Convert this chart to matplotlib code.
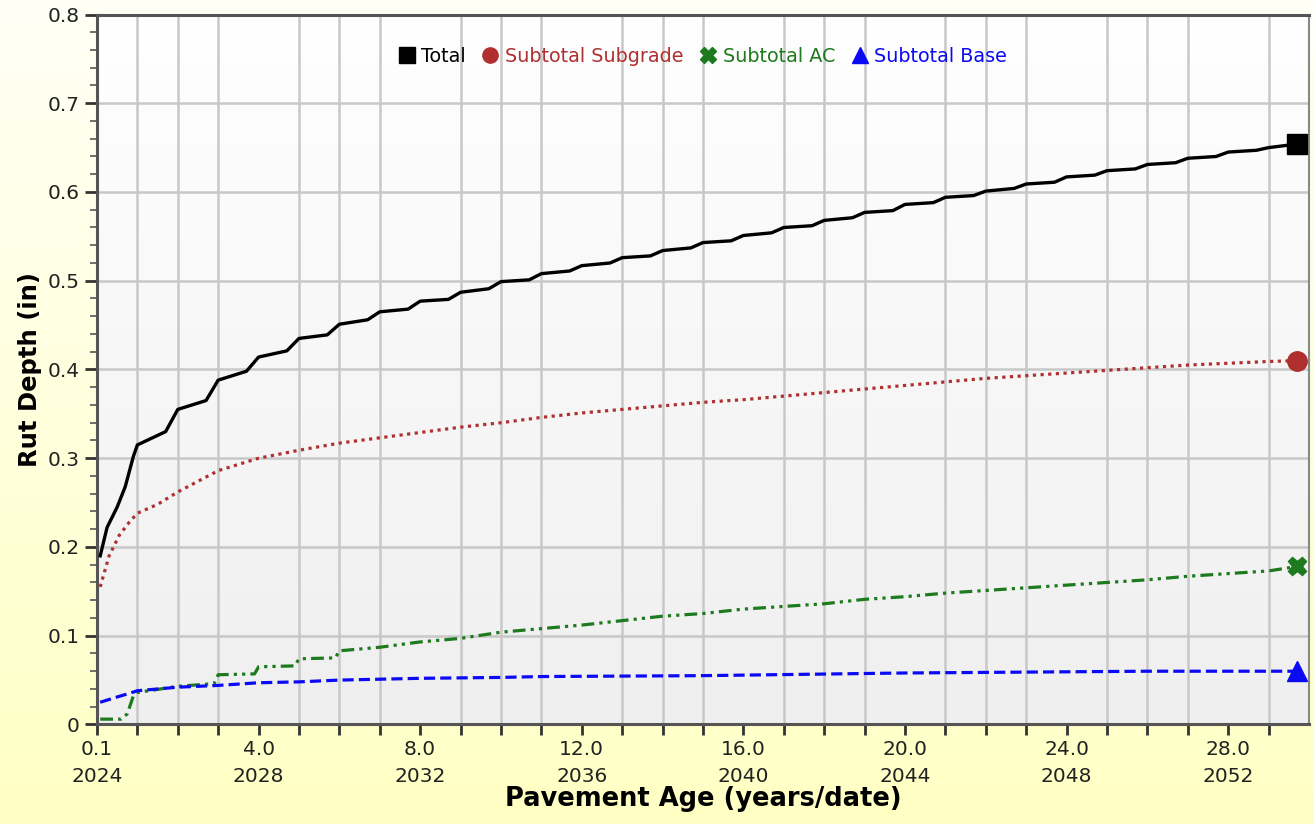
import numpy as np
import matplotlib
matplotlib.use('Agg')
import matplotlib.pyplot as plt
from matplotlib.lines import Line2D
from matplotlib.colors import LinearSegmentedColormap

# pavement age (years) and rut depth (in)
total_age = [0.08, 0.25, 0.5, 0.7, 0.9, 1.0, 1.7, 2.0, 2.7, 3.0, 3.7, 4.0, 4.7, 5.0, 5.7,
             6.0, 6.7, 7.0, 7.7, 8.0, 8.7, 9.0, 9.7, 10.0, 10.7, 11.0, 11.7, 12.0, 12.7,
             13.0, 13.7, 14.0, 14.7, 15.0, 15.7, 16.0, 16.7, 17.0, 17.7, 18.0, 18.7,
             19.0, 19.7, 20.0, 20.7, 21.0, 21.7, 22.0, 22.7, 23.0, 23.7, 24.0, 24.7,
             25.0, 25.7, 26.0, 26.7, 27.0, 27.7, 28.0, 28.7, 29.0, 29.7]
total = [0.19, 0.222, 0.245, 0.268, 0.302, 0.315, 0.33, 0.355, 0.365, 0.388, 0.398, 0.414,
         0.421, 0.435, 0.439, 0.451, 0.456, 0.465, 0.468, 0.477, 0.479, 0.487, 0.491,
         0.499, 0.501, 0.508, 0.511, 0.517, 0.520, 0.526, 0.528, 0.534, 0.537, 0.543,
         0.545, 0.551, 0.554, 0.560, 0.562, 0.568, 0.571, 0.577, 0.579, 0.586, 0.588,
         0.594, 0.596, 0.601, 0.604, 0.609, 0.611, 0.617, 0.619, 0.624, 0.626, 0.631,
         0.633, 0.638, 0.640, 0.645, 0.647, 0.650, 0.654]

sub_age = [0.08, 0.3, 0.55, 0.8, 1.0, 1.5, 2.0, 3.0, 4.0, 5.0, 6.0, 7.0, 8.0, 9.0, 10.0,
           11.0, 12.0, 13.0, 14.0, 15.0, 16.0, 17.0, 18.0, 19.0, 20.0, 21.0, 22.0, 23.0,
           24.0, 25.0, 26.0, 27.0, 28.0, 29.0, 29.7]
subgrade = [0.155, 0.19, 0.213, 0.228, 0.238, 0.248, 0.262, 0.286, 0.300, 0.309, 0.317,
            0.323, 0.329, 0.335, 0.340, 0.346, 0.351, 0.355, 0.359, 0.363, 0.366, 0.370,
            0.374, 0.378, 0.382, 0.386, 0.390, 0.393, 0.396, 0.399, 0.402, 0.405, 0.407,
            0.409, 0.410]

ac_age = [0.08, 0.6, 0.75, 0.9, 1.0, 2.0, 2.9, 3.0, 3.9, 4.0, 4.9, 5.0, 5.9, 6.0, 7.0,
          8.0, 9.0, 10.0, 11.0, 12.0, 13.0, 14.0, 15.0, 16.0, 17.0, 18.0, 19.0, 20.0,
          21.0, 22.0, 23.0, 24.0, 25.0, 26.0, 27.0, 28.0, 29.0, 29.7]
ac = [0.006, 0.006, 0.012, 0.032, 0.036, 0.043, 0.046, 0.056, 0.057, 0.065, 0.066, 0.074,
      0.075, 0.083, 0.087, 0.093, 0.097, 0.104, 0.108, 0.112, 0.117, 0.122, 0.125, 0.130,
      0.133, 0.136, 0.141, 0.144, 0.148, 0.151, 0.154, 0.157, 0.160, 0.163, 0.167, 0.170,
      0.173, 0.178]

base_age = [0.08, 0.5, 0.8, 1.0, 2.0, 3.0, 4.0, 5.0, 6.0, 8.0, 10.0, 11.0, 15.0, 20.0,
            26.0, 29.7]
base = [0.025, 0.031, 0.035, 0.038, 0.042, 0.044, 0.047, 0.048, 0.050, 0.052, 0.053, 0.054,
        0.055, 0.058, 0.060, 0.060]

xtick_pos = [0, 4, 8, 12, 16, 20, 24, 28]
xtick_labels = ['0.1\n2024', '4.0\n2028', '8.0\n2032', '12.0\n2036', '16.0\n2040',
                '20.0\n2044', '24.0\n2048', '28.0\n2052']
ytick_pos = [0, 0.1, 0.2, 0.3, 0.4, 0.5, 0.6, 0.7, 0.8]
ytick_labels = ['0', '0.1', '0.2', '0.3', '0.4', '0.5', '0.6', '0.7', '0.8']

red = '#B03030'
green = '#1E7A1E'
blue = '#0A0AF5'

fig = plt.figure(figsize=(13.14, 8.24), dpi=100)

# yellowish figure background
bg = fig.add_axes([0, 0, 1, 1], zorder=-10)
bg.axis('off')
bg_cmap = LinearSegmentedColormap.from_list('bg', ['#FFFFF6', '#FFFFC4'])
bg.imshow(np.linspace(0, 1, 256).reshape(-1, 1), aspect='auto', cmap=bg_cmap,
          extent=[0, 1, 0, 1], origin='upper')

ax = fig.add_axes([0.0738, 0.1208, 0.9224, 0.8616])
plot_cmap = LinearSegmentedColormap.from_list('pa', ['#FFFFFF', '#EFEFEF'])
ax.imshow(np.linspace(0, 1, 256).reshape(-1, 1), aspect='auto', cmap=plot_cmap,
          extent=[0, 30, 0, 0.8], origin='upper', zorder=0)

ax.plot(total_age, total, color='black', lw=2.4, zorder=5)
ax.plot(sub_age, subgrade, color=red, lw=2.3, linestyle=(0, (1, 1.4)), zorder=4)
ax.plot(ac_age, ac, color=green, lw=2.3, linestyle=(0, (4, 1.6, 1, 1.6, 1, 1.6)), zorder=4)
ax.plot(base_age, base, color=blue, lw=2.3, linestyle=(0, (3.5, 1.6)), zorder=4)

ax.plot(total_age[-1], total[-1], marker='s', color='black', ms=14, zorder=6, clip_on=False)
ax.plot(sub_age[-1], subgrade[-1], marker='o', color=red, ms=14, zorder=6, clip_on=False)
ax.plot(ac_age[-1], ac[-1], marker='X', color=green, ms=13, zorder=6, clip_on=False)
ax.plot(base_age[-1], base[-1], marker='^', color=blue, ms=14, zorder=6, clip_on=False)

ax.set_xlim(0, 30)
ax.set_ylim(0, 0.8)
ax.set_xticks(xtick_pos)
ax.set_xticklabels(xtick_labels, fontsize=14.5, color='#222222', linespacing=1.5)
ax.set_xticks(np.arange(0, 30), minor=True)
ax.set_yticks(ytick_pos)
ax.set_yticklabels(ytick_labels, fontsize=14.5, color='#222222')
ax.set_yticks(np.arange(0, 0.81, 0.02), minor=True)
ax.tick_params(axis='x', which='both', length=8, width=2, color='#333333', direction='out')
ax.tick_params(axis='y', which='major', length=9, width=2, color='#333333')
ax.tick_params(axis='y', which='minor', length=5, width=1.2, color='#555555')

ax.grid(True, which='minor', axis='x', color='#C8C8C8', lw=1.8, zorder=1)
ax.grid(True, which='major', axis='y', color='#C8C8C8', lw=1.8, zorder=1)
ax.set_axisbelow(True)
for side in ['left', 'bottom', 'top']:
    ax.spines[side].set_color('#555555')
    ax.spines[side].set_linewidth(2.2)
ax.spines['right'].set_color('#888888')
ax.spines['right'].set_linewidth(1.5)

ax.set_xlabel('Pavement Age (years/date)', fontsize=18.5, fontweight='bold', labelpad=0)
ax.set_ylabel('Rut Depth (in)', fontsize=17.5, fontweight='bold', labelpad=4)

handles = [
    Line2D([], [], marker='s', color='black', linestyle='None', ms=11),
    Line2D([], [], marker='o', color=red, linestyle='None', ms=11),
    Line2D([], [], marker='X', color=green, linestyle='None', ms=11),
    Line2D([], [], marker='^', color=blue, linestyle='None', ms=11),
]
labels = ['Total', 'Subtotal Subgrade', 'Subtotal AC', 'Subtotal Base']
leg = ax.legend(handles, labels, loc='center', bbox_to_anchor=(0.5, 0.9415), ncol=4,
                frameon=False, fontsize=13.8, handlelength=0.8, handletextpad=0.35,
                columnspacing=0.9)
for txt, c in zip(leg.get_texts(), ['black', red, green, blue]):
    txt.set_color(c)

fig.savefig('out.png', dpi=100, facecolor=fig.get_facecolor())
